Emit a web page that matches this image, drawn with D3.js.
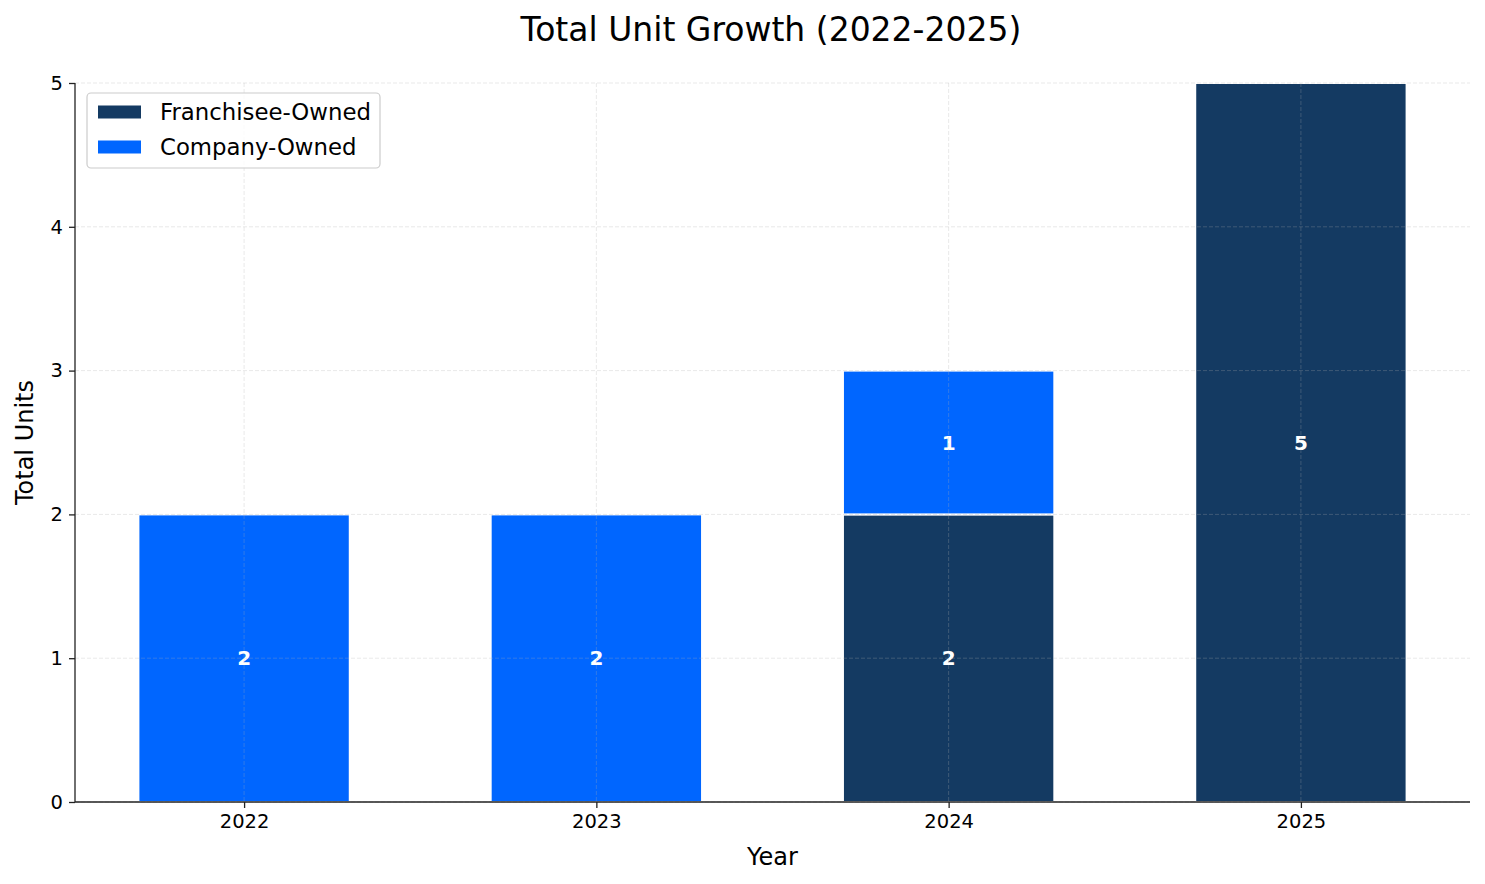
<!DOCTYPE html>
<html><head><meta charset="utf-8">
<script src="https://cdn.jsdelivr.net/npm/d3@7/dist/d3.min.js"></script>
<style>body{margin:0;background:#fff;} svg{display:block;font-family:"DejaVu Sans",sans-serif;}</style>
</head><body>
<svg id="c" width="1485" height="884"></svg>
<script>
const years = ["2022","2023","2024","2025"];
const franchisee = [0,0,2,5];
const company = [2,2,1,0];
const seriesNames = ["Franchisee-Owned","Company-Owned"];
const seriesColors = ["#143A62","#0066FF"];
const yTicks = [0,1,2,3,4,5];

const svg = d3.select("#c");
const m = {l:75, r:15, t:83, b:82};
const W = 1485, H = 884;
const x = d3.scaleLinear().domain([-0.48, 3.48]).range([m.l, W - m.r]);
const y = d3.scaleLinear().domain([0,5]).range([H - m.b, m.t]);
const bw = 0.6;

const data = years.map((yr,i)=>({yr, i, f:franchisee[i], c:company[i]}));
const g = svg.append("g");

// bars
const segs = [];
data.forEach(d=>{
  if (d.f>0) segs.push({i:d.i, y0:0, y1:d.f, v:d.f, s:0});
  if (d.c>0) segs.push({i:d.i, y0:d.f, y1:d.f+d.c, v:d.c, s:1});
});
g.selectAll("rect.bar").data(segs).join("rect")
  .attr("x", d=>x(d.i-bw/2)).attr("width", d=>x(d.i+bw/2)-x(d.i-bw/2))
  .attr("y", d=>y(d.y1)).attr("height", d=>y(d.y0)-y(d.y1))
  .attr("fill", d=>seriesColors[d.s]).attr("stroke","#fff").attr("stroke-width",2);

// grid
const grid = svg.append("g").attr("stroke","#b0b0b0").attr("stroke-opacity",0.35).attr("stroke-width",0.8).attr("stroke-dasharray","4,2");
grid.selectAll("line.h").data(yTicks).join("line")
  .attr("x1",m.l).attr("x2",W-m.r).attr("y1",d=>y(d)).attr("y2",d=>y(d));
grid.selectAll("line.v").data(data).join("line")
  .attr("x1",d=>x(d.i)).attr("x2",d=>x(d.i)).attr("y1",m.t).attr("y2",H-m.b);

// labels
g.selectAll("text.lbl").data(segs).join("text")
  .attr("x", d=>x(d.i)).attr("y", d=>y((d.y0+d.y1)/2))
  .attr("text-anchor","middle").attr("dominant-baseline","central")
  .attr("fill","#fff").attr("font-weight","bold").attr("font-size",20)
  .text(d=>d.v);

// axes
const xAxis = d3.axisBottom(x).tickValues(data.map(d=>d.i)).tickFormat(i=>years[i]).tickSize(6).tickPadding(6);
const yAxis = d3.axisLeft(y).tickValues(yTicks).tickFormat(d3.format("d")).tickSize(6).tickPadding(6);
const gx = svg.append("g").attr("transform",`translate(0,${H-m.b})`).call(xAxis);
const gy = svg.append("g").attr("transform",`translate(${m.l},0)`).call(yAxis);
[gx,gy].forEach(a=>{
  a.select(".domain").attr("stroke","#222").attr("stroke-width",1.3);
  a.selectAll(".tick line").attr("stroke","#222").attr("stroke-width",1.3);
  a.selectAll(".tick text").attr("fill","#000").attr("font-size",19.5).attr("font-family","DejaVu Sans");
});
gx.select(".domain").attr("d",`M${m.l},0H${W-m.r}`);
gy.select(".domain").attr("d",`M0,${H-m.b}V${m.t}`);

// titles
svg.append("text").attr("x",771).attr("y",41).attr("text-anchor","middle")
  .attr("font-size",33).attr("fill","#000").text("Total Unit Growth (2022-2025)");
svg.append("text").attr("x",(m.l+W-m.r)/2).attr("y",865).attr("text-anchor","middle")
  .attr("font-size",24).attr("fill","#000").text("Year");
svg.append("text").attr("transform",`translate(33,${(m.t+H-m.b)/2}) rotate(-90)`).attr("text-anchor","middle")
  .attr("font-size",24).attr("fill","#000").text("Total Units");

// legend
const lg = svg.append("g");
lg.append("rect").attr("x",87).attr("y",93).attr("width",293).attr("height",75).attr("rx",4)
  .attr("fill","#fff").attr("fill-opacity",0.8).attr("stroke","#ccc").attr("stroke-width",1.2);
seriesNames.forEach((n,k)=>{
  const cy = 112 + k*35;
  lg.append("rect").attr("x",98).attr("y",cy-6.5).attr("width",43).attr("height",13).attr("fill",seriesColors[k]);
  lg.append("text").attr("x",160).attr("y",cy).attr("dominant-baseline","central")
    .attr("font-size",22.8).attr("fill","#000").text(n);
});
</script>
</body></html>
